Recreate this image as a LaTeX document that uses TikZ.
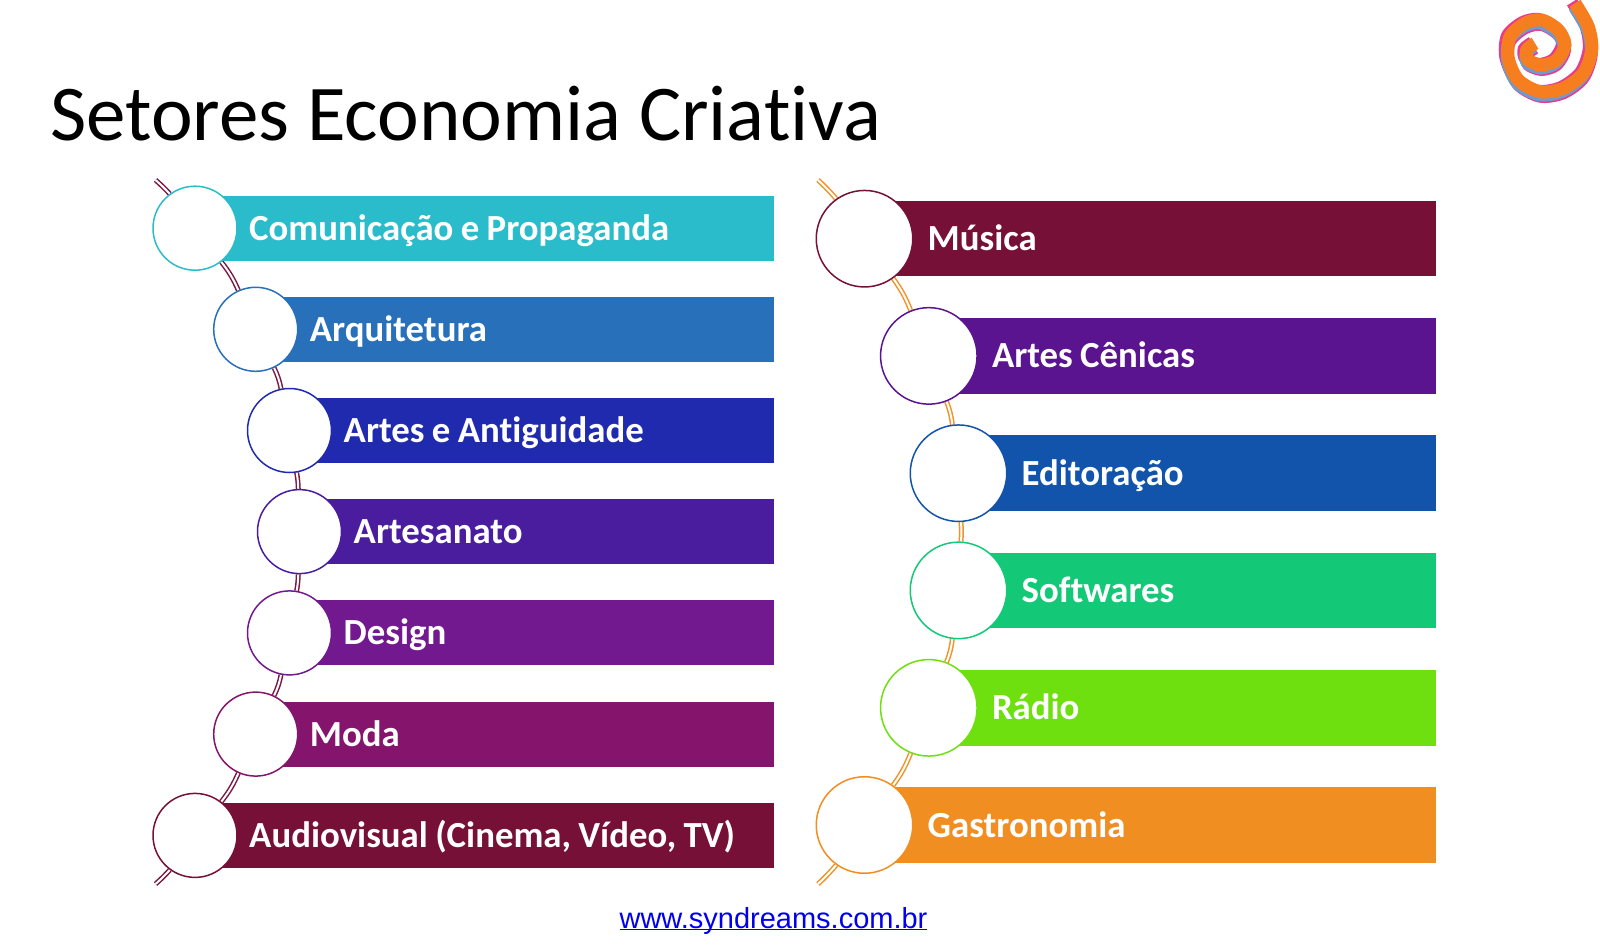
\documentclass[tikz,border=0pt]{standalone}
\usepackage{fontspec}
\setmainfont[RawFeature={-liga}]{Carlito}
\newfontfamily\urlfont{Liberation Sans}
\usetikzlibrary{backgrounds}
\tikzset{
  leftbar/.style={rectangle,anchor=west,inner xsep=0pt,inner ysep=0pt,minimum height=65pt,text=white,align=left,text height=28pt,text depth=4pt,font=\fontsize{36.8}{42}\selectfont\bfseries,execute at begin node={\spaceskip=0.2em\relax\hspace*{54pt}}},
  rightbar/.style={rectangle,anchor=west,inner xsep=0pt,inner ysep=0pt,minimum height=75.5pt,text=white,align=left,text height=28pt,text depth=4pt,font=\fontsize{36.8}{42}\selectfont\bfseries,execute at begin node={\spaceskip=0.2em\relax\hspace*{63.5pt}}},
  leftdisc/.style={circle,fill=white,line width=1.5pt,minimum size=84pt,inner sep=0pt},
  rightdisc/.style={circle,fill=white,line width=1.5pt,minimum size=96.5pt,inner sep=0pt},
  leftchain/.style={double=white,draw=chainleftcolor,line width=1.5pt,double distance=2pt},
  rightchain/.style={double=white,draw=chainrightcolor,line width=1.5pt,double distance=2pt},
}
\begin{document}
\begin{tikzpicture}[x=1pt,y=-1pt]
\definecolor{chainleftcolor}{RGB}{122,24,66}
\definecolor{chainrightcolor}{RGB}{240,146,40}
\definecolor{lcolora}{RGB}{43,188,203}
\definecolor{lcolorb}{RGB}{40,112,186}
\definecolor{lcolorc}{RGB}{31,42,175}
\definecolor{lcolord}{RGB}{74,29,158}
\definecolor{lcolore}{RGB}{115,25,144}
\definecolor{lcolorf}{RGB}{133,20,108}
\definecolor{lcolorg}{RGB}{118,16,54}
\definecolor{rcolora}{RGB}{118,16,54}
\definecolor{rcolorb}{RGB}{90,20,144}
\definecolor{rcolorc}{RGB}{18,84,171}
\definecolor{rcolord}{RGB}{19,201,119}
\definecolor{rcolore}{RGB}{110,224,16}
\definecolor{rcolorf}{RGB}{241,142,34}
\definecolor{linkcolor}{RGB}{0,0,238}
\definecolor{logopink}{RGB}{232,60,140}
\definecolor{logoblue}{RGB}{110,155,205}
\definecolor{logoorange}{RGB}{247,126,30}
\useasboundingbox (0,0) rectangle (1600,952);
\node [anchor=base west,inner sep=0pt,font=\fontsize{79}{86}\selectfont] (title) at (50,140.5) {Setores Economia Criativa};
\node [leftbar,fill=lcolora,text width=578.5pt] (lbar1) at (195,228.2) {Comunicação e Propaganda};
\node [leftbar,fill=lcolorb,text width=517.8pt] (lbar2) at (255.7,329.3) {Arquitetura};
\node [leftbar,fill=lcolorc,text width=484pt] (lbar3) at (289.5,430.5) {Artes e Antiguidade};
\node [leftbar,fill=lcolord,text width=474pt] (lbar4) at (299.5,531.6) {Artesanato};
\node [leftbar,fill=lcolore,text width=484pt] (lbar5) at (289.5,632.9) {Design};
\node [leftbar,fill=lcolorf,text width=517.8pt] (lbar6) at (255.7,734.1) {Moda};
\node [leftbar,fill=lcolorg,text width=578.5pt] (lbar7) at (195,835.4) {Audiovisual (Cinema, Vídeo, TV)};
\node [rightbar,fill=rcolora,text width=572pt] (rbar1) at (864,238.7) {Música};
\node [rightbar,fill=rcolorb,text width=507.7pt] (rbar2) at (928.3,355.9) {Artes Cênicas};
\node [rightbar,fill=rcolorc,text width=478pt] (rbar3) at (958,473.2) {Editoração};
\node [rightbar,fill=rcolord,text width=478pt] (rbar4) at (958,590.4) {Softwares};
\node [rightbar,fill=rcolore,text width=507.7pt] (rbar5) at (928.3,707.8) {Rádio};
\node [rightbar,fill=rcolorf,text width=572pt] (rbar6) at (864,825) {Gastronomia};
\node [leftdisc,draw=lcolora] (lcircle1) at (195,228.2) {};
\node [leftdisc,draw=lcolorb] (lcircle2) at (255.7,329.3) {};
\node [leftdisc,draw=lcolorc] (lcircle3) at (289.5,430.5) {};
\node [leftdisc,draw=lcolord] (lcircle4) at (299.5,531.6) {};
\node [leftdisc,draw=lcolore] (lcircle5) at (289.5,632.9) {};
\node [leftdisc,draw=lcolorf] (lcircle6) at (255.7,734.1) {};
\node [leftdisc,draw=lcolorg] (lcircle7) at (195,835.4) {};
\node [rightdisc,draw=rcolora] (rcircle1) at (864.5,238.7) {};
\node [rightdisc,draw=rcolorb] (rcircle2) at (928.8,355.9) {};
\node [rightdisc,draw=rcolorc] (rcircle3) at (958.5,473.2) {};
\node [rightdisc,draw=rcolord] (rcircle4) at (958.5,590.4) {};
\node [rightdisc,draw=rcolore] (rcircle5) at (928.8,707.8) {};
\node [rightdisc,draw=rcolorf] (rcircle6) at (864.5,825) {};
\coordinate (ltop) at (155.5,180);
\coordinate (lbottom) at (155.5,884);
\coordinate (rtop) at (818,180);
\coordinate (rbottom) at (818,884);
\begin{scope}[on background layer]
\draw [leftchain] (ltop) to [bend left=3] (lcircle1);
\draw [leftchain] (lcircle1) to [bend left=7] (lcircle2);
\draw [leftchain] (lcircle2) to [bend left=7] (lcircle3);
\draw [leftchain] (lcircle3) to [bend left=4] (lcircle4);
\draw [leftchain] (lcircle4) to [bend left=4] (lcircle5);
\draw [leftchain] (lcircle5) to [bend left=7] (lcircle6);
\draw [leftchain] (lcircle6) to [bend left=7] (lcircle7);
\draw [leftchain] (lcircle7) to [bend left=3] (lbottom);
\draw [rightchain] (rtop) to [bend left=3] (rcircle1);
\draw [rightchain] (rcircle1) to [bend left=7] (rcircle2);
\draw [rightchain] (rcircle2) to [bend left=7] (rcircle3);
\draw [rightchain] (rcircle3) to [bend left=3] (rcircle4);
\draw [rightchain] (rcircle4) to [bend left=7] (rcircle5);
\draw [rightchain] (rcircle5) to [bend left=7] (rcircle6);
\draw [rightchain] (rcircle6) to [bend left=3] (rbottom);
\end{scope}
\node [anchor=base,text=linkcolor,inner sep=0pt,font=\urlfont\fontsize{29}{32}\selectfont] (website) at (773.5,928) {\underline{\smash{www.syndreams.com.br}}};
\def\logopath{plot [smooth] coordinates {(1575,3.3) (1588.3,26.7) (1591.7,50) (1583.3,73.3) (1563.3,88.3) (1540,91.7) (1518.3,80) (1508.3,58.3) (1510,36.7) (1525,23.3) (1541.7,20) (1558.3,30) (1565,45) (1556.7,60) (1541.7,65) (1528.3,60) (1526.7,50) (1535,43.3)}}
\draw [logopink,line width=12pt,xshift=-3pt,yshift=1pt] \logopath;
\draw [logopink,line width=12pt,yshift=-5pt] \logopath;
\draw [logoblue,line width=12pt,xshift=-1pt,yshift=-3.5pt] \logopath;
\draw [logoorange,line width=13pt] \logopath;
\end{tikzpicture}
\end{document}
